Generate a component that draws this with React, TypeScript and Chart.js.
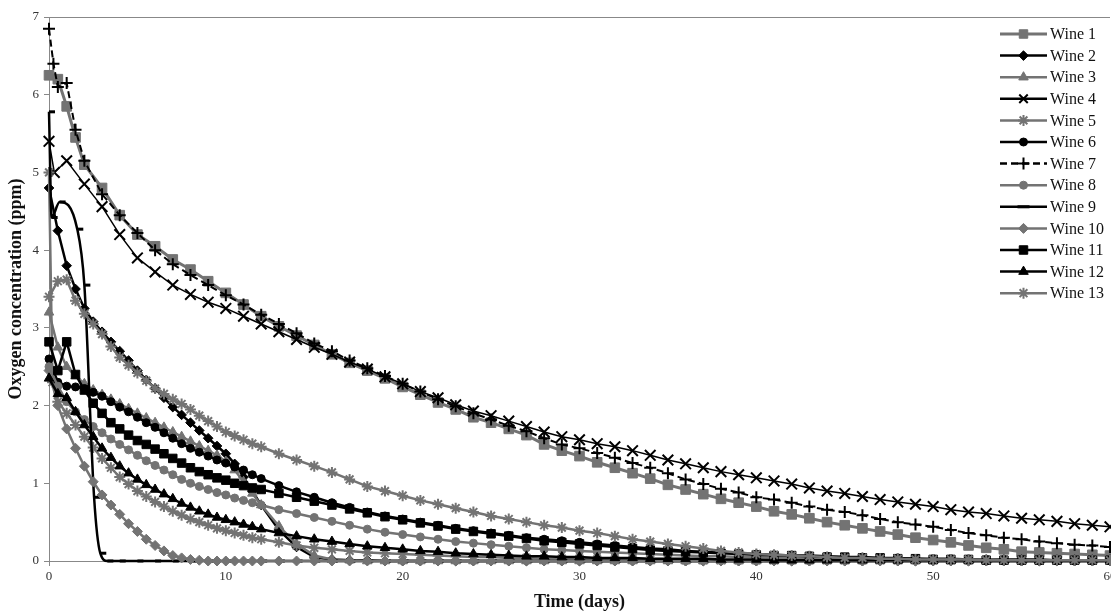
import React, { useEffect, useRef } from "react";
import { Chart, registerables } from "chart.js";

Chart.register(...registerables);

// ---------- data ----------
const GRID = [0, 0.5, 1, 1.5, 2, 3, 4, 5, 6, 7, 8, 9, 10, 11, 12, 13, 14, 15, 16, 17, 18, 19, 20, 21, 22, 23, 24, 25, 26, 27, 28, 29, 30, 31, 32, 33, 34, 35, 36, 37, 38, 39, 40, 41, 42, 43, 44, 45, 46, 47, 48, 49, 50, 51, 52, 53, 54, 55, 56, 57, 58, 59, 60];
const LOWER_GRID = [0, 0.5, 1, 1.5, 2, 2.5, 3, 3.5, 4, 4.5, 5, 5.5, 6, 6.5, 7, 7.5, 8, 8.5, 9, 9.5, 10, 10.5, 11, 11.5, 12, 13, 14, 15, 16, 17, 18, 19, 20, 21, 22, 23, 24, 25, 26, 27, 28, 29, 30, 31, 32, 33, 34, 35, 36, 37, 38, 39, 40, 41, 42, 43, 44, 45, 46, 47, 48, 49, 50, 51, 52, 53, 54, 55, 56, 57, 58, 59, 60];
const TIME_W4 = [0, 0.3, 1, 2, 3, 4, 5, 6, 7, 8, 9, 10, 11, 12, 13, 14, 15, 16, 17, 18, 19, 20, 21, 22, 23, 24, 25, 26, 27, 28, 29, 30, 31, 32, 33, 34, 35, 36, 37, 38, 39, 40, 41, 42, 43, 44, 45, 46, 47, 48, 49, 50, 51, 52, 53, 54, 55, 56, 57, 58, 59, 60];
const TIME_W5 = [0, 0.2, 0.5, 1, 1.5, 2, 2.5, 3, 3.5, 4, 4.5, 5, 5.5, 6, 6.5, 7, 7.5, 8, 8.5, 9, 9.5, 10, 10.5, 11, 11.5, 12, 13, 14, 15, 16, 17, 18, 19, 20, 21, 22, 23, 24, 25, 26, 27, 28, 29, 30, 31, 32, 33, 34, 35, 36, 37, 38, 39, 40, 41, 42, 43, 44, 45, 46, 47, 48, 49, 50, 51, 52, 53, 54, 55, 56, 57, 58, 59, 60];
const TIME_W7 = [0, 0.25, 0.5, 1, 1.5, 2, 3, 4, 5, 6, 7, 8, 9, 10, 11, 12, 13, 14, 15, 16, 17, 18, 19, 20, 21, 22, 23, 24, 25, 26, 27, 28, 29, 30, 31, 32, 33, 34, 35, 36, 37, 38, 39, 40, 41, 42, 43, 44, 45, 46, 47, 48, 49, 50, 51, 52, 53, 54, 55, 56, 57, 58, 59, 60];
const TIME_W9 = [0, 0.15, 0.6, 1.6, 2.0, 2.55, 2.9, 3.3, 4, 5, 6, 7, 8, 9, 10, 11, 12, 13, 14, 15, 16, 17, 18, 19, 20, 21, 22, 23, 24, 25, 26, 27, 28, 29, 30, 31, 32, 33, 34, 35, 36, 37, 38, 39, 40, 41, 42, 43, 44, 45, 46, 47, 48, 49, 50, 51, 52, 53, 54, 55, 56, 57, 58, 59, 60];

const WINE_1 = [6.25, 6.2, 5.85, 5.45, 5.1, 4.8, 4.45, 4.2, 4.05, 3.88, 3.75, 3.6, 3.45, 3.3, 3.15, 3.02, 2.9, 2.78, 2.66, 2.55, 2.45, 2.35, 2.24, 2.14, 2.04, 1.95, 1.85, 1.78, 1.7, 1.62, 1.5, 1.42, 1.35, 1.27, 1.2, 1.13, 1.06, 0.98, 0.92, 0.86, 0.8, 0.75, 0.7, 0.64, 0.6, 0.55, 0.5, 0.46, 0.42, 0.38, 0.34, 0.3, 0.27, 0.24, 0.2, 0.17, 0.15, 0.12, 0.11, 0.1, 0.09, 0.08, 0.07];
const WINE_2 = [4.8, 4.25, 3.8, 3.5, 3.25, 3.08, 2.95, 2.82, 2.7, 2.58, 2.45, 2.33, 2.22, 2.1, 1.98, 1.88, 1.78, 1.68, 1.58, 1.48, 1.38, 1.25, 1.08, 0.9, 0.72, 0.4, 0.18, 0.05, 0.02, 0.01, 0.01, 0, 0, 0, 0, 0, 0, 0, 0, 0, 0, 0, 0, 0, 0, 0, 0, 0, 0, 0, 0, 0, 0, 0, 0, 0, 0, 0, 0, 0, 0, 0, 0, 0, 0, 0, 0, 0, 0, 0, 0, 0, 0];
const WINE_3 = [3.2, 2.75, 2.5, 2.38, 2.28, 2.2, 2.14, 2.08, 2.02, 1.96, 1.9, 1.84, 1.78, 1.72, 1.66, 1.6, 1.54, 1.48, 1.42, 1.36, 1.28, 1.17, 1.02, 0.87, 0.72, 0.45, 0.22, 0.07, 0.02, 0.01, 0, 0, 0, 0, 0, 0, 0, 0, 0, 0, 0, 0, 0, 0, 0, 0, 0, 0, 0, 0, 0, 0, 0, 0, 0, 0, 0, 0, 0, 0, 0, 0, 0, 0, 0, 0, 0, 0, 0, 0, 0, 0, 0];
const WINE_4 = [5.4, 5.0, 5.15, 4.85, 4.56, 4.2, 3.9, 3.72, 3.55, 3.43, 3.33, 3.25, 3.15, 3.05, 2.95, 2.85, 2.75, 2.66, 2.56, 2.47, 2.37, 2.28, 2.18, 2.1, 2.01, 1.93, 1.87, 1.8, 1.73, 1.66, 1.6, 1.56, 1.51, 1.47, 1.42, 1.36, 1.3, 1.25, 1.2, 1.15, 1.11, 1.07, 1.03, 0.99, 0.94, 0.9, 0.87, 0.83, 0.79, 0.76, 0.73, 0.7, 0.66, 0.63, 0.61, 0.58, 0.55, 0.53, 0.51, 0.48, 0.46, 0.44];
const WINE_5 = [5.0, 2.3, 2.05, 1.9, 1.75, 1.6, 1.46, 1.32, 1.2, 1.08, 0.99, 0.9, 0.83, 0.76, 0.7, 0.64, 0.59, 0.54, 0.5, 0.46, 0.42, 0.39, 0.36, 0.33, 0.3, 0.28, 0.24, 0.2, 0.17, 0.15, 0.13, 0.11, 0.1, 0.09, 0.08, 0.07, 0.06, 0.05, 0.05, 0.04, 0.04, 0.03, 0.03, 0.03, 0.02, 0.02, 0.02, 0.02, 0.02, 0.01, 0.01, 0.01, 0.01, 0.01, 0.01, 0.01, 0.01, 0.01, 0.01, 0.01, 0.01, 0.01, 0.01, 0.01, 0.01, 0.01, 0.01, 0.01, 0.01, 0.01, 0.01, 0.01, 0.01, 0.01];
const WINE_6 = [2.6, 2.3, 2.25, 2.24, 2.22, 2.17, 2.12, 2.05, 1.98, 1.92, 1.85, 1.78, 1.72, 1.65, 1.58, 1.51, 1.45, 1.4, 1.35, 1.3, 1.26, 1.21, 1.17, 1.11, 1.06, 0.97, 0.89, 0.82, 0.75, 0.69, 0.63, 0.58, 0.54, 0.5, 0.46, 0.42, 0.39, 0.36, 0.33, 0.3, 0.28, 0.26, 0.24, 0.22, 0.2, 0.18, 0.16, 0.15, 0.13, 0.12, 0.11, 0.1, 0.09, 0.08, 0.07, 0.07, 0.06, 0.05, 0.05, 0.04, 0.04, 0.03, 0.03, 0.03, 0.02, 0.02, 0.02, 0.02, 0.02, 0.01, 0.01, 0.01, 0.01];
const WINE_7 = [6.85, 6.4, 6.1, 6.15, 5.55, 5.15, 4.72, 4.45, 4.22, 4.0, 3.82, 3.68, 3.55, 3.42, 3.3, 3.17, 3.05, 2.93, 2.8, 2.7, 2.58, 2.48, 2.38, 2.28, 2.18, 2.08, 1.99, 1.9, 1.82, 1.74, 1.67, 1.58, 1.5, 1.45, 1.39, 1.33, 1.26, 1.2, 1.13, 1.05, 0.99, 0.93, 0.88, 0.82, 0.79, 0.75, 0.7, 0.66, 0.63, 0.59, 0.54, 0.5, 0.47, 0.44, 0.4, 0.36, 0.33, 0.3, 0.28, 0.25, 0.23, 0.21, 0.2, 0.18];
const WINE_8 = [2.5, 2.25, 2.05, 1.92, 1.82, 1.73, 1.65, 1.57, 1.5, 1.43, 1.36, 1.29, 1.23, 1.17, 1.11, 1.05, 1.0, 0.96, 0.92, 0.88, 0.85, 0.81, 0.78, 0.75, 0.72, 0.66, 0.61, 0.56, 0.51, 0.46, 0.41, 0.37, 0.34, 0.31, 0.28, 0.25, 0.23, 0.21, 0.19, 0.17, 0.15, 0.14, 0.13, 0.12, 0.11, 0.1, 0.09, 0.08, 0.07, 0.06, 0.06, 0.05, 0.05, 0.04, 0.04, 0.04, 0.03, 0.03, 0.03, 0.03, 0.02, 0.02, 0.02, 0.02, 0.02, 0.02, 0.01, 0.01, 0.01, 0.01, 0.01, 0.01, 0.01];
const WINE_9 = [5.78, 4.42, 4.62, 4.27, 3.55, 0.82, 0.1, 0, 0, 0, 0, 0, 0, 0, 0, 0, 0, 0, 0, 0, 0, 0, 0, 0, 0, 0, 0, 0, 0, 0, 0, 0, 0, 0, 0, 0, 0, 0, 0, 0, 0, 0, 0, 0, 0, 0, 0, 0, 0, 0, 0, 0, 0, 0, 0, 0, 0, 0, 0, 0, 0, 0, 0, 0, 0];
const WINE_10 = [2.45, 2.0, 1.7, 1.45, 1.22, 1.02, 0.85, 0.72, 0.6, 0.48, 0.38, 0.28, 0.2, 0.13, 0.07, 0.04, 0.02, 0.01, 0, 0, 0, 0, 0, 0, 0, 0, 0, 0, 0, 0, 0, 0, 0, 0, 0, 0, 0, 0, 0, 0, 0, 0, 0, 0, 0, 0, 0, 0, 0, 0, 0, 0, 0, 0, 0, 0, 0, 0, 0, 0, 0, 0, 0, 0, 0, 0, 0, 0, 0, 0, 0, 0, 0];
const WINE_11 = [2.82, 2.45, 2.82, 2.4, 2.2, 2.03, 1.9, 1.78, 1.7, 1.62, 1.55, 1.5, 1.44, 1.38, 1.32, 1.26, 1.2, 1.15, 1.11, 1.07, 1.04, 1.0, 0.97, 0.94, 0.92, 0.87, 0.82, 0.77, 0.72, 0.67, 0.62, 0.57, 0.53, 0.49, 0.45, 0.41, 0.38, 0.35, 0.32, 0.29, 0.26, 0.24, 0.22, 0.2, 0.18, 0.16, 0.14, 0.13, 0.12, 0.11, 0.1, 0.09, 0.08, 0.07, 0.07, 0.06, 0.05, 0.05, 0.04, 0.04, 0.03, 0.03, 0.02, 0.02, 0.02, 0.01, 0.01, 0.01, 0.01, 0.01, 0.01, 0.01, 0.01];
const WINE_12 = [2.35, 2.15, 2.1, 1.92, 1.75, 1.6, 1.45, 1.33, 1.22, 1.13, 1.05, 0.98, 0.92, 0.86, 0.8, 0.74, 0.69, 0.64, 0.6, 0.56, 0.53, 0.5, 0.47, 0.44, 0.41, 0.36, 0.32, 0.28, 0.25, 0.22, 0.19, 0.17, 0.15, 0.13, 0.12, 0.1, 0.09, 0.08, 0.07, 0.06, 0.06, 0.05, 0.05, 0.04, 0.04, 0.04, 0.03, 0.03, 0.03, 0.03, 0.02, 0.02, 0.02, 0.01, 0.01, 0.01, 0.01, 0.01, 0.01, 0.01, 0.01, 0.01, 0.01, 0.01, 0.01, 0.01, 0.01, 0.01, 0.01, 0.01, 0.01, 0.01, 0.01];
const WINE_13 = [3.4, 3.6, 3.62, 3.35, 3.18, 3.05, 2.92, 2.76, 2.62, 2.52, 2.42, 2.32, 2.22, 2.15, 2.08, 2.02, 1.95, 1.87, 1.8, 1.73, 1.66, 1.61, 1.56, 1.51, 1.47, 1.38, 1.3, 1.22, 1.14, 1.05, 0.96, 0.9, 0.84, 0.78, 0.73, 0.68, 0.63, 0.58, 0.54, 0.5, 0.46, 0.43, 0.39, 0.36, 0.32, 0.28, 0.25, 0.22, 0.19, 0.16, 0.13, 0.11, 0.09, 0.08, 0.07, 0.06, 0.05, 0.04, 0.04, 0.03, 0.03, 0.02, 0.02, 0.02, 0.02, 0.01, 0.01, 0.01, 0.01, 0.01, 0.01, 0.01, 0.01];

const LABELS = ["Wine 1", "Wine 2", "Wine 3", "Wine 4", "Wine 5", "Wine 6", "Wine 7", "Wine 8", "Wine 9", "Wine 10", "Wine 11", "Wine 12", "Wine 13"];
const SERIES_TIMES = [GRID, LOWER_GRID, LOWER_GRID, TIME_W4, TIME_W5, LOWER_GRID, TIME_W7, LOWER_GRID, TIME_W9, LOWER_GRID, LOWER_GRID, LOWER_GRID, LOWER_GRID];
const SERIES_VALUES = [WINE_1, WINE_2, WINE_3, WINE_4, WINE_5, WINE_6, WINE_7, WINE_8, WINE_9, WINE_10, WINE_11, WINE_12, WINE_13];
const X_TICKS = [0, 10, 20, 30, 40, 50, 60];
const Y_TICKS = [0, 1, 2, 3, 4, 5, 6, 7];

// ---------- styles ----------
const GRAY = "#737373";
const BLACK = "#000000";
type Sty = { color: string; width: number; point: string; radius: number; pbw: number; dash?: number[]; smooth?: boolean };
const STYLES: Sty[] = [
  { color: GRAY, width: 3, point: "rect", radius: 6.8, pbw: 1 },
  { color: BLACK, width: 2.5, point: "rectRot", radius: 4.8, pbw: 1 },
  { color: GRAY, width: 2.5, point: "triangle", radius: 5.5, pbw: 1 },
  { color: BLACK, width: 1.5, point: "crossRot", radius: 7.5, pbw: 2 },
  { color: GRAY, width: 2.5, point: "star", radius: 5.5, pbw: 2 },
  { color: BLACK, width: 2.5, point: "circle", radius: 4, pbw: 1 },
  { color: BLACK, width: 2, point: "cross", radius: 6, pbw: 2, dash: [7, 4] },
  { color: GRAY, width: 2.5, point: "circle", radius: 4, pbw: 1 },
  { color: BLACK, width: 2.5, point: "dash", radius: 6, pbw: 3, smooth: true },
  { color: GRAY, width: 2.5, point: "rectRot", radius: 5, pbw: 1 },
  { color: BLACK, width: 2.5, point: "rect", radius: 6, pbw: 1 },
  { color: BLACK, width: 2.5, point: "triangle", radius: 5.5, pbw: 1 },
  { color: GRAY, width: 2.5, point: "star", radius: 5.5, pbw: 2 },
];

const FONT = '"Liberation Serif", "Times New Roman", serif';

function drawMarker(ctx: CanvasRenderingContext2D, style: string, x: number, y: number, r: number, color: string, bw: number) {
  const s = r * Math.SQRT1_2;
  ctx.save();
  ctx.fillStyle = color;
  ctx.strokeStyle = color;
  ctx.lineWidth = bw;
  ctx.setLineDash([]);
  ctx.beginPath();
  let filled = true;
  switch (style) {
    case "rect":
      ctx.rect(x - s, y - s, 2 * s, 2 * s);
      break;
    case "rectRot":
      ctx.moveTo(x, y - r); ctx.lineTo(x + r, y); ctx.lineTo(x, y + r); ctx.lineTo(x - r, y); ctx.closePath();
      break;
    case "triangle": {
      for (let k = 0; k < 3; k++) {
        const a = (k * 2 * Math.PI) / 3;
        const px = x + Math.sin(a) * r;
        const py = y - Math.cos(a) * r;
        if (k === 0) ctx.moveTo(px, py); else ctx.lineTo(px, py);
      }
      ctx.closePath();
      break;
    }
    case "circle":
      ctx.arc(x, y, r, 0, Math.PI * 2);
      break;
    case "cross":
      filled = false;
      ctx.moveTo(x, y - r); ctx.lineTo(x, y + r); ctx.moveTo(x - r, y); ctx.lineTo(x + r, y);
      break;
    case "crossRot":
      filled = false;
      ctx.moveTo(x - s, y - s); ctx.lineTo(x + s, y + s); ctx.moveTo(x + s, y - s); ctx.lineTo(x - s, y + s);
      break;
    case "star":
      filled = false;
      ctx.moveTo(x, y - r); ctx.lineTo(x, y + r); ctx.moveTo(x - r, y); ctx.lineTo(x + r, y);
      ctx.moveTo(x - s, y - s); ctx.lineTo(x + s, y + s); ctx.moveTo(x + s, y - s); ctx.lineTo(x - s, y + s);
      break;
    case "dash":
      filled = false;
      ctx.moveTo(x - r, y); ctx.lineTo(x + r, y);
      break;
  }
  if (filled) ctx.fill();
  ctx.stroke();
  ctx.restore();
}

const legendPlugin = {
  id: "wineLegend",
  afterDraw(chart: any) {
    const ctx: CanvasRenderingContext2D = chart.ctx;
    const x0 = 1000, x1 = 1047, top = 34, step = 21.6;
    chart.data.datasets.forEach((ds: any, i: number) => {
      const st = STYLES[i];
      const y = top + i * step;
      ctx.save();
      ctx.strokeStyle = st.color;
      ctx.lineWidth = Math.max(st.width, 2.5);
      ctx.setLineDash(st.dash || []);
      ctx.beginPath();
      ctx.moveTo(x0, y);
      ctx.lineTo(x1, y);
      ctx.stroke();
      ctx.restore();
      drawMarker(ctx, st.point, (x0 + x1) / 2, y, Math.min(st.radius, 6), st.color, st.pbw);
      ctx.save();
      ctx.fillStyle = "#111";
      ctx.font = `16px ${FONT}`;
      ctx.textBaseline = "middle";
      ctx.textAlign = "left";
      ctx.fillText(ds.label, x1 + 3, y + 1);
      ctx.restore();
    });
  },
};

export default function App() {
  const ref = useRef<HTMLCanvasElement>(null);
  useEffect(() => {
    document.body.style.margin = "0";
    Chart.defaults.font.family = FONT;
    const datasets = LABELS.map((label, i) => {
      const st = STYLES[i];
      const times = SERIES_TIMES[i];
      const vals = SERIES_VALUES[i];
      return {
        label,
        data: times.map((t, k) => ({ x: t, y: vals[k] })),
        borderColor: st.color,
        backgroundColor: st.color,
        borderWidth: st.width,
        borderDash: st.dash || [],
        pointStyle: st.point,
        pointRadius: st.radius,
        pointBackgroundColor: st.color,
        pointBorderColor: st.color,
        pointBorderWidth: st.pbw,
        tension: 0,
        cubicInterpolationMode: st.smooth ? "monotone" : "default",
        fill: false,
        order: LABELS.length - i,
        clip: 10,
      };
    });
    const chart = new Chart(ref.current as HTMLCanvasElement, {
      type: "line",
      data: { datasets } as any,
      plugins: [legendPlugin],
      options: {
        animation: false,
        responsive: false,
        devicePixelRatio: 1,
        layout: { padding: { top: 17, right: 12, left: 0, bottom: 0 } },
        plugins: { legend: { display: false }, tooltip: { enabled: false } },
        scales: {
          x: {
            type: "linear",
            min: 0,
            max: 60,
            afterFit: (s: any) => { s.height = 54; },
            afterBuildTicks: (s: any) => { s.ticks = X_TICKS.map((v) => ({ value: v })); },
            ticks: { font: { size: 13, family: FONT }, color: "#333", padding: 3, maxRotation: 0 },
            grid: { drawOnChartArea: false, drawTicks: true, tickLength: 5, tickColor: "#888" },
            border: { display: true, color: "#888", width: 1 },
            title: { display: true, text: "Time (days)", color: "#111", font: { size: 18, weight: "bold", family: FONT }, padding: { top: 2, bottom: 2 } },
          },
          y: {
            type: "linear",
            min: 0,
            max: 7,
            afterFit: (s: any) => { s.width = 49; },
            afterBuildTicks: (s: any) => { s.ticks = Y_TICKS.map((v) => ({ value: v })); },
            ticks: { font: { size: 13, family: FONT }, color: "#333", padding: 5 },
            grid: {
              drawOnChartArea: true,
              drawTicks: true,
              tickLength: 5,
              tickColor: "#888",
              color: (c: any) => (c.tick && c.tick.value === 7 ? "#888" : "rgba(0,0,0,0)"),
            },
            border: { display: true, color: "#888", width: 1 },
            title: { display: true, text: "Oxygen concentration (ppm)", color: "#111", font: { size: 18, weight: "bold", family: FONT }, padding: { top: 6, bottom: 2 } },
          },
        },
      } as any,
    });
    return () => chart.destroy();
  }, []);
  return (
    <div style={{ width: 1111, height: 615, overflow: "hidden", background: "#fff" }}>
      <canvas ref={ref} width={1122} height={615} style={{ display: "block" }} />
    </div>
  );
}
